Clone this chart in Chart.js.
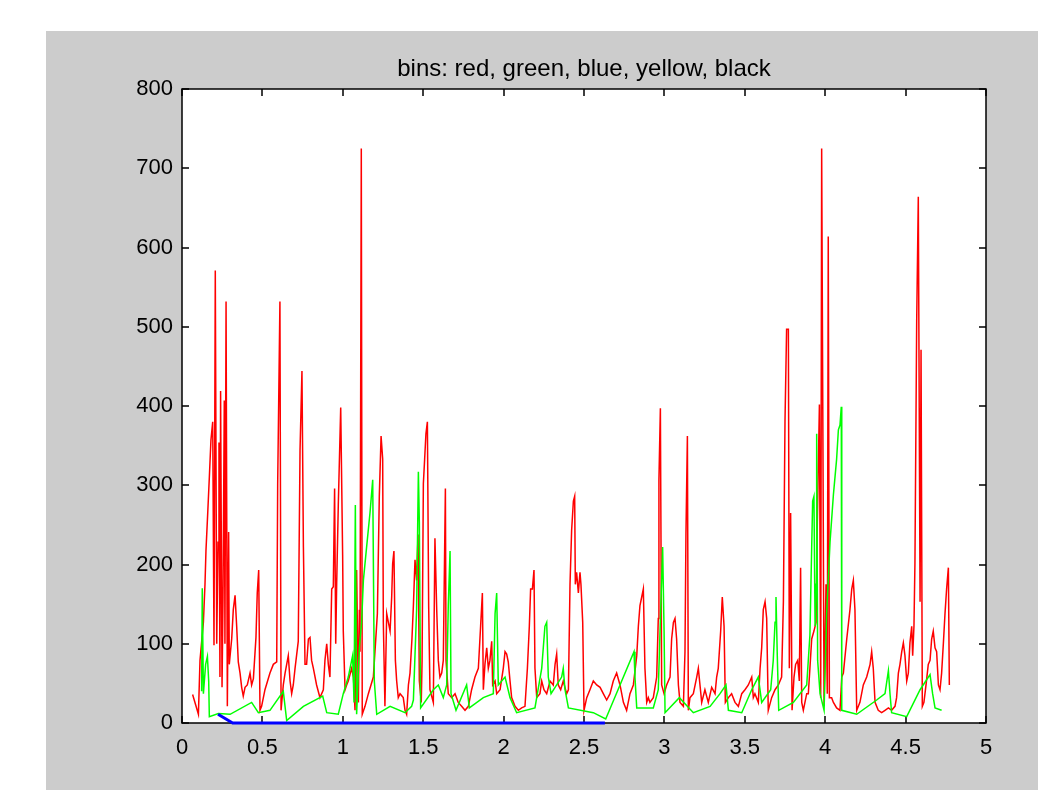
<!DOCTYPE html>
<html><head><meta charset="utf-8">
<script src="https://cdn.jsdelivr.net/npm/chart.js@4/dist/chart.umd.min.js"></script>
<style>html,body{margin:0;padding:0;background:#fff;overflow:hidden}canvas{display:block}</style>
</head><body>
<canvas id="c" width="1038" height="790"></canvas>
<script>
const titleText = 'bins: red, green, blue, yellow, black';
const xTicks = [0,0.5,1,1.5,2,2.5,3,3.5,4,4.5,5];
const xTickLabels = ['0','0.5','1','1.5','2','2.5','3','3.5','4','4.5','5'];
const yTicks = [0,100,200,300,400,500,600,700,800];
const yTickLabels = ['0','100','200','300','400','500','600','700','800'];

const redX = [0.066,0.102,0.112,0.133,0.143,0.149,0.160,0.170,0.180,0.191,
0.199,0.207,0.216,0.224,0.230,0.236,0.240,0.249,0.255,0.263,
0.267,0.274,0.282,0.290,0.294,0.309,0.319,0.330,0.340,0.350,
0.361,0.371,0.381,0.392,0.406,0.423,0.433,0.444,0.460,0.468,
0.477,0.485,0.495,0.516,0.547,0.568,0.589,0.595,0.609,0.616,
0.630,0.641,0.661,0.672,0.682,0.692,0.703,0.723,0.734,0.746,
0.755,0.765,0.775,0.786,0.796,0.806,0.817,0.837,0.858,0.879,
0.889,0.900,0.910,0.920,0.931,0.941,0.949,0.956,0.962,0.972,
0.987,0.999,1.003,1.014,1.024,1.034,1.055,1.066,1.076,1.086,
1.097,1.103,1.107,1.115,1.121,1.138,1.159,1.190,1.215,1.227,
1.238,1.248,1.252,1.262,1.273,1.294,1.304,1.310,1.318,1.327,
1.335,1.345,1.356,1.376,1.387,1.397,1.408,1.418,1.430,1.439,
1.449,1.459,1.468,1.476,1.488,1.493,1.501,1.509,1.517,1.526,
1.534,1.542,1.563,1.573,1.584,1.594,1.604,1.615,1.625,1.638,
1.642,1.656,1.677,1.698,1.718,1.739,1.760,1.781,1.801,1.822,
1.843,1.857,1.868,1.874,1.884,1.895,1.905,1.915,1.926,1.932,
1.947,1.957,1.978,1.998,2.009,2.019,2.029,2.040,2.050,2.071,
2.092,2.112,2.133,2.148,2.160,2.168,2.179,2.189,2.195,2.206,
2.226,2.237,2.251,2.268,2.289,2.309,2.320,2.330,2.340,2.355,
2.371,2.392,2.403,2.413,2.423,2.434,2.442,2.446,2.454,2.465,
2.475,2.481,2.492,2.500,2.517,2.537,2.558,2.579,2.600,2.620,
2.641,2.662,2.682,2.703,2.724,2.745,2.765,2.786,2.807,2.828,
2.838,2.848,2.859,2.869,2.879,2.890,2.900,2.910,2.931,2.952,
2.962,2.966,2.975,2.983,2.998,3.014,3.035,3.045,3.056,3.066,
3.076,3.087,3.097,3.118,3.128,3.134,3.143,3.149,3.159,3.180,
3.201,3.211,
3.232,3.252,3.273,3.294,3.315,3.325,3.335,3.350,3.360,3.371,
3.379,3.398,3.418,3.439,3.460,3.481,3.501,3.522,3.543,3.553,
3.563,3.584,3.595,3.605,3.615,3.626,3.636,3.646,3.667,3.688,
3.709,3.729,3.740,3.750,3.760,3.771,3.777,3.785,3.794,3.806,
3.816,3.829,3.839,3.847,3.854,3.864,3.874,3.885,3.895,3.905,
3.916,3.930,3.943,3.951,3.964,3.972,3.978,3.993,4.005,4.013,
4.019,4.026,4.040,4.051,4.071,4.092,4.103,4.113,4.134,4.154,
4.165,4.175,4.185,4.196,4.216,4.237,4.258,4.279,4.289,4.299,
4.310,4.330,4.351,4.372,4.393,4.413,4.434,4.444,4.455,4.465,
4.476,4.486,4.496,4.507,4.517,4.527,4.538,4.544,4.552,4.558,
4.569,4.579,4.590,4.596,4.604,4.614,4.627,4.641,4.652,4.662,
4.672,4.683,4.693,4.704,4.714,4.724,4.735,4.745,4.755,4.766,
4.772];
const redY = [36,11,79,127,175,217,265,310,357,380,
98,571,100,228,354,58,419,45,159,407,
100,532,21,241,74,106,143,161,122,77,
63,45,34,45,48,63,48,56,108,164,
193,16,21,42,63,74,77,302,532,16,
48,63,85,53,37,48,69,103,344,444,
222,74,74,106,108,79,69,48,32,42,
79,100,74,58,169,172,296,100,177,275,
398,212,116,42,48,53,69,58,16,193,
26,143,90,725,11,21,37,58,138,286,
362,333,127,21,138,116,159,201,217,79,
53,32,37,32,16,11,48,63,106,148,
206,180,238,53,26,79,302,333,365,380,
148,42,26,233,143,79,58,63,79,296,
79,37,32,37,26,21,16,21,42,58,
69,122,164,42,74,95,69,79,103,48,
53,37,42,69,90,87,77,53,32,21,
16,19,21,69,122,169,169,193,69,32,
37,53,42,37,53,48,74,87,48,42,
53,37,42,175,243,280,286,175,190,164,
190,175,127,16,32,42,53,48,45,37,
29,37,53,63,48,26,16,37,48,85,
122,148,159,169,69,26,32,26,32,58,
132,307,397,48,37,48,58,106,127,132,
106,48,26,21,90,238,362,16,32,37,
58,69,
26,42,26,45,37,58,69,116,159,122,
26,32,37,26,21,37,42,48,58,32,
37,26,69,95,143,153,132,16,32,42,
48,58,153,381,497,497,69,265,16,58,
74,79,53,196,26,16,26,37,37,69,
106,116,127,254,402,32,725,21,175,37,
614,32,32,26,19,16,58,63,106,143,
169,180,143,16,26,48,58,74,90,69,
26,16,13,16,19,16,21,32,63,74,
90,101,85,53,63,101,122,85,122,201,
508,664,153,471,21,26,48,74,79,106,
116,95,90,48,42,63,101,138,169,196,
48];

const greenX = [0.122,0.126,0.133,0.147,0.158,0.166,0.170,0.226,0.299,0.433,
0.475,0.547,0.630,0.651,0.755,0.875,0.900,0.972,1.003,1.034,
1.061,1.070,1.078,1.086,1.103,1.117,1.128,1.148,1.169,1.186,
1.196,1.211,1.294,1.387,1.428,1.439,1.459,1.470,1.476,1.484,
1.563,1.594,1.625,1.646,
1.656,1.667,1.673,1.704,1.770,1.787,1.874,1.936,1.947,1.957,
1.967,2.009,2.040,2.081,2.195,2.237,2.257,2.268,2.278,2.295,
2.361,2.371,2.382,2.403,2.558,2.635,2.724,2.811,2.817,2.828,
2.931,2.962,2.977,2.989,2.998,3.004,3.093,3.180,
3.284,3.346,3.383,3.398,3.481,3.543,3.584,3.605,3.661,3.677,
3.688,3.694,3.702,3.711,3.802,3.885,3.905,3.916,3.922,3.930,
3.937,3.943,3.947,3.953,3.968,3.993,4.009,4.030,4.051,4.071,
4.082,4.092,4.100,4.103,4.196,4.320,4.372,4.393,4.403,4.413,
4.507,4.590,4.652,4.668,4.683,4.724];
const greenY = [40,170,37,74,84,53,8,12,11,26,
13,16,40,3,21,34,13,11,37,58,
85,26,275,11,95,127,180,222,265,307,
53,11,21,13,21,29,143,317,254,19,
42,48,32,48,
148,217,37,16,48,19,32,37,138,164,
48,58,32,13,19,69,122,127,58,37,
58,69,42,19,13,5,48,90,58,19,
19,42,143,222,116,13,32,13,
21,37,48,16,13,42,58,26,42,79,
127,159,85,16,26,48,111,222,280,286,
122,175,365,79,37,16,138,228,288,333,
370,376,399,16,11,29,37,66,37,13,
8,42,61,37,19,16];

const blueX = [0.224,0.315,2.63];
const blueY = [11,0,0];

const FONT = "'Liberation Sans', Arial, Helvetica, sans-serif";

const pts = (xs, ys) => xs.map((x, i) => ({x: x, y: ys[i]}));

const framePlugin = {
  id: 'matlabFrame',
  beforeDraw(chart) {
    const ctx = chart.ctx, ca = chart.chartArea;
    ctx.save();
    ctx.fillStyle = '#ffffff';
    ctx.fillRect(0, 0, chart.width, chart.height);
    ctx.fillStyle = '#cccccc';
    ctx.fillRect(46, 31, chart.width - 46, chart.height - 31);
    ctx.fillStyle = '#ffffff';
    ctx.fillRect(ca.left, ca.top, ca.right - ca.left, ca.bottom - ca.top);
    ctx.restore();
  },
  beforeDatasetsDraw(chart) {
    const ctx = chart.ctx, ca = chart.chartArea;
    const xs = chart.scales.x, ys = chart.scales.y;
    ctx.save();
    ctx.strokeStyle = '#000';
    ctx.lineWidth = 1.5;
    ctx.strokeRect(ca.left, ca.top, ca.right - ca.left, ca.bottom - ca.top);
    const L = 7;
    ctx.beginPath();
    xs.ticks.forEach(t => {
      const p = Math.round(xs.getPixelForValue(t.value));
      ctx.moveTo(p, ca.bottom); ctx.lineTo(p, ca.bottom - L);
      ctx.moveTo(p, ca.top); ctx.lineTo(p, ca.top + L);
    });
    ys.ticks.forEach(t => {
      const p = Math.round(ys.getPixelForValue(t.value));
      ctx.moveTo(ca.left, p); ctx.lineTo(ca.left + L, p);
      ctx.moveTo(ca.right, p); ctx.lineTo(ca.right - L, p);
    });
    ctx.stroke();
    ctx.fillStyle = '#000';
    ctx.font = '24px ' + FONT;
    ctx.textAlign = 'center';
    ctx.textBaseline = 'middle';
    ctx.fillText(titleText, (ca.left + ca.right) / 2, 69);
    ctx.restore();
  }
};

new Chart(document.getElementById('c'), {
  type: 'line',
  data: {
    datasets: [
      {label: 'red', data: pts(redX, redY), borderColor: '#ff0000', borderWidth: 1.5, pointRadius: 0, tension: 0, order: 3, clip: false},
      {label: 'green', data: pts(greenX, greenY), borderColor: '#00ff00', borderWidth: 1.5, pointRadius: 0, tension: 0, order: 2, clip: false},
      {label: 'blue', data: pts(blueX, blueY), borderColor: '#0000ff', borderWidth: 3, pointRadius: 0, tension: 0, order: 1, clip: false}
    ]
  },
  options: {
    responsive: false,
    animation: false,
    events: [],
    layout: {padding: {top: 89, right: 52, left: 0, bottom: 0}},
    plugins: {legend: {display: false}, tooltip: {enabled: false}, title: {display: false}},
    scales: {
      x: {
        type: 'linear', min: 0, max: 5,
        afterBuildTicks: s => { s.ticks = xTicks.map(v => ({value: v})); },
        afterFit: s => { s.height = 67; },
        ticks: {callback: (v, i) => xTickLabels[i], color: '#000', font: {family: FONT, size: 22}, padding: 12, maxRotation: 0, autoSkip: false},
        grid: {display: false, drawTicks: false},
        border: {display: false}
      },
      y: {
        type: 'linear', min: 0, max: 800,
        afterBuildTicks: s => { s.ticks = yTicks.map(v => ({value: v})); },
        afterFit: s => { s.width = 182; },
        ticks: {callback: (v, i) => yTickLabels[i], color: '#000', font: {family: FONT, size: 22}, padding: 9, autoSkip: false},
        grid: {display: false, drawTicks: false},
        border: {display: false}
      }
    }
  },
  plugins: [framePlugin]
});
</script>
</body></html>
